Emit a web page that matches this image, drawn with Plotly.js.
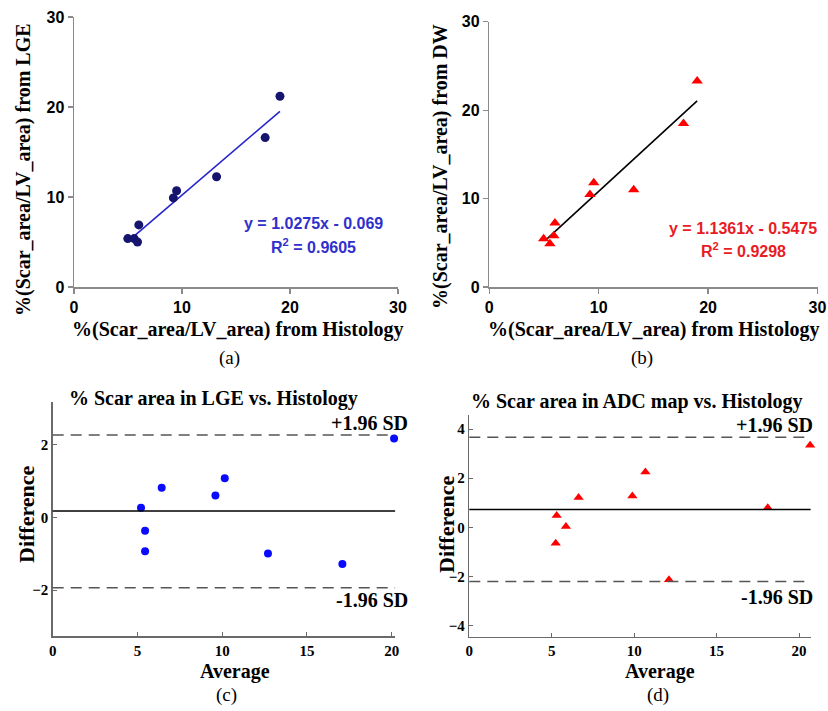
<!DOCTYPE html>
<html>
<head>
<meta charset="utf-8">
<script src="https://cdn.plot.ly/plotly-3.0.1.min.js"></script>
<style>html,body{margin:0;padding:0;background:#fff;}#chart{width:828px;height:711px;}</style>
</head>
<body>
<div id="chart"></div>
<script>
// ---- Data ----
// (a) LGE vs Histology
const histoA = [4.98, 5.57, 5.88, 6.0, 9.2, 9.5, 13.2, 17.7, 19.07];
const lgeA   = [5.38, 5.38, 5.0, 6.9, 9.9, 10.7, 12.25, 16.6, 21.2];
const fitA = [1.0275, -0.069];          // slope, intercept
const fitRangeA = [5.4, 19.07];
// (b) DW vs Histology
const histoB = [4.97, 5.54, 5.9, 6.0, 9.2, 9.55, 13.2, 17.75, 19.0];
const dwB    = [5.47, 4.9, 5.8, 7.25, 10.45, 11.8, 11.0, 18.5, 23.3];
const fitB = [1.1361, -0.5475];
const fitRangeB = [5.1, 19.0];
// (c) Bland-Altman LGE
const avgC  = [5.21, 5.45, 5.45, 6.43, 9.6, 10.15, 12.7, 17.09, 20.14];
const diffC = [0.27, -0.36, -0.93, 0.82, 0.61, 1.08, -0.99, -1.28, 2.18];
const limitsC = [2.27, 0.18, -1.93];   // +1.96SD, mean, -1.96SD
// (d) Bland-Altman ADC
const avgD  = [5.3, 5.86, 5.24, 6.63, 9.89, 10.68, 12.11, 18.1, 20.67];
const diffD = [0.48, 0.03, -0.65, 1.21, 1.27, 2.25, -2.13, 0.8, 3.34];
const limitsD = [3.66, 0.73, -2.2];
// tick labels
const ticksAB = [0, 10, 20, 30];
const ticksCDx = [0, 5, 10, 15, 20];
const ticksCy = [-2, 0, 2];
const ticksDy = [-4, -2, 0, 2, 4];

// ---- helpers ----
const W = 828, H = 711;
const px = v => v / W;
const py = v => 1 - v / H;
const lineOf = (fit, r) => ({x: r, y: r.map(v => fit[0] * v + fit[1])});

const sans = 'Liberation Sans, Arial, sans-serif';
const serif = 'Liberation Serif, Times New Roman, serif';

const la = lineOf(fitA, fitRangeA);
const lb = lineOf(fitB, fitRangeB);

const traces = [
  {x: la.x, y: la.y, xaxis: 'x', yaxis: 'y', mode: 'lines', line: {color: '#2424cc', width: 1.6}, hoverinfo: 'skip'},
  {x: histoA, y: lgeA, xaxis: 'x', yaxis: 'y', mode: 'markers', marker: {color: '#15156e', size: 9, symbol: 'circle'}, cliponaxis: false},
  {x: lb.x, y: lb.y, xaxis: 'x2', yaxis: 'y2', mode: 'lines', line: {color: '#000', width: 1.6}, hoverinfo: 'skip'},
  {x: histoB, y: dwB, xaxis: 'x2', yaxis: 'y2', mode: 'markers', marker: {color: '#ff0000', size: 10, symbol: 'triangle-up'}, cliponaxis: false},
  {x: avgC, y: diffC, xaxis: 'x3', yaxis: 'y3', mode: 'markers', marker: {color: '#0a0aff', size: 8, symbol: 'circle'}, cliponaxis: false},
  {x: avgD, y: diffD, xaxis: 'x4', yaxis: 'y4', mode: 'markers', marker: {color: '#ff0000', size: 9, symbol: 'triangle-up'}, cliponaxis: false}
];

const axAB = (dom, rng, anchor) => ({
  domain: dom, range: rng, anchor: anchor, tickvals: ticksAB,
  showline: true, linecolor: '#8a8a8a', linewidth: 1.5, ticks: 'outside', ticklen: 5,
  tickcolor: '#8a8a8a', tickwidth: 1.2, showgrid: false, zeroline: false,
  ticklabeloverflow: 'allow',
  tickfont: {family: sans, size: 16, color: '#000', weight: 'bold'}
});
const axCD = (dom, rng, anchor, tv) => ({
  domain: dom, range: rng, anchor: anchor, tickvals: tv,
  showline: true, linecolor: '#6a6a6a', linewidth: 1.5, ticks: 'inside', ticklen: 4,
  tickcolor: '#6a6a6a', tickwidth: 1, showgrid: false, zeroline: false,
  ticklabeloverflow: 'allow',
  tickfont: {family: serif, size: 15, color: '#000', weight: 'bold'}
});

const hline = (xref, yref, val, dash, color) => ({
  type: 'line', xref: xref + ' domain', yref: yref, x0: 0, x1: 1, y0: val, y1: val,
  line: {color: color, width: 1.5, dash: dash}
});

const shapes = [
  hline('x3', 'y3', limitsC[0], '11px,7px', '#555'),
  hline('x3', 'y3', limitsC[1], 'solid', '#000'),
  hline('x3', 'y3', limitsC[2], '11px,7px', '#555'),
  hline('x4', 'y4', limitsD[0], '11px,7px', '#555'),
  hline('x4', 'y4', limitsD[1], 'solid', '#000'),
  hline('x4', 'y4', limitsD[2], '11px,7px', '#555')
];

const ann = (text, x, y, font, extra) => Object.assign({
  text: text, xref: 'paper', yref: 'paper', x: px(x), y: py(y),
  xanchor: 'center', yanchor: 'middle', showarrow: false, font: font
}, extra || {});

const fAxT = {family: serif, size: 20, color: '#000', weight: 'bold'};
const fTitle = {family: serif, size: 20, color: '#000', weight: 'bold'};
const fAve = {family: serif, size: 20, color: '#000', weight: 'bold'};
const fDiff = {family: serif, size: 22, color: '#000', weight: 'bold'};
const fLab = {family: serif, size: 19, color: '#000'};
const fEqA = {family: sans, size: 16, color: '#3030cc', weight: 'bold'};
const fEqB = {family: sans, size: 16, color: '#e81c24', weight: 'bold'};

const annotations = [
  // (a)
  ann('%(Scar_area/LV_area) from Histology', 237, 329, fAxT),
  ann('%(Scar_area/LV_area) from LGE', 23, 170, fAxT, {textangle: -90}),
  ann('y = 1.0275x - 0.069', 313, 223, fEqA),
  ann('R<sup>2</sup> = 0.9605', 313, 246, fEqA),
  ann('(a)', 229, 358, fLab),
  // (b)
  ann('%(Scar_area/LV_area) from Histology', 653, 329, fAxT),
  ann('%(Scar_area/LV_area) from DW', 441, 167, fAxT, {textangle: -90}),
  ann('y = 1.1361x - 0.5475', 743, 228, fEqB),
  ann('R<sup>2</sup> = 0.9298', 743, 250, fEqB),
  ann('(b)', 642, 358, fLab),
  // (c)
  ann('% Scar area in LGE vs. Histology', 214, 398, fTitle),
  ann('+1.96 SD', 410, 423, fTitle, {xanchor: 'right'}),
  ann('-1.96 SD', 410, 600, fTitle, {xanchor: 'right'}),
  ann('Difference', 26, 514, fDiff, {textangle: -90}),
  ann('Average', 235, 671, fAve),
  ann('(c)', 226, 695, fLab),
  // (d)
  ann('% Scar area in ADC map vs. Histology', 637, 401, fTitle),
  ann('+1.96 SD', 815, 425, fTitle, {xanchor: 'right'}),
  ann('-1.96 SD', 815, 597, fTitle, {xanchor: 'right'}),
  ann('Difference', 446, 524, fDiff, {textangle: -90}),
  ann('Average', 660, 671, fAve),
  ann('(d)', 658, 695, fLab)
];

const layout = {
  width: W, height: H, margin: {l: 0, r: 0, t: 0, b: 0},
  paper_bgcolor: '#fff', plot_bgcolor: 'rgba(0,0,0,0)', showlegend: false,
  xaxis: axAB([px(74), px(398)], [0, 30], 'y'),
  yaxis: axAB([py(287), py(17)], [0, 30], 'x'),
  xaxis2: axAB([px(489.3), px(817.5)], [0, 30], 'y2'),
  yaxis2: axAB([py(287), py(21.7)], [0, 30], 'x2'),
  xaxis3: axCD([px(52.7), px(395.1)], [0, 20.2], 'y3', ticksCDx),
  yaxis3: axCD([py(636), py(401.7)], [-3.26, 3.19], 'x3', ticksCy),
  xaxis4: axCD([px(469.3), px(810.6)], [0, 20.7], 'y4', ticksCDx),
  yaxis4: axCD([py(636.7), py(415)], [-4.45, 4.57], 'x4', ticksDy),
  shapes: shapes,
  annotations: annotations
};

Plotly.newPlot('chart', traces, layout, {displayModeBar: false, staticPlot: true});
</script>
</body>
</html>
